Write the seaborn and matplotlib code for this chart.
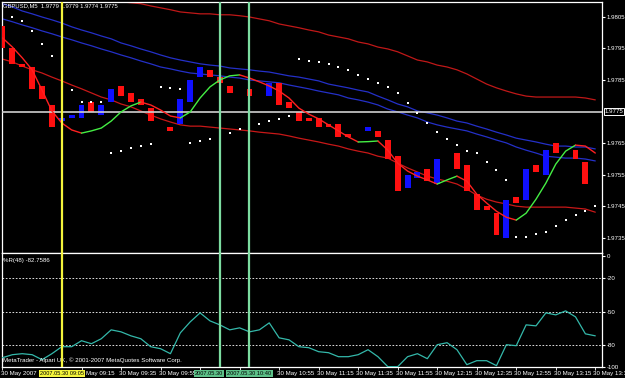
import numpy as np
import pandas as pd
import matplotlib
matplotlib.use("Agg")
import matplotlib.pyplot as plt
import matplotlib.transforms as mtransforms
import seaborn as sns

# ---------------- data ----------------
bar_index = list(range(61))

open_price = [1.9802, 1.9795, 1.9790, 1.9789, 1.9783, 1.9777, 1.9772, 1.9773, 1.9773, 1.9778,
              1.9774, 1.9778, 1.9783, 1.9781, 1.9779, 1.9776, 1.9775, 1.9770, 1.9771, 1.9778,
              1.9786, 1.9788, 1.9786, 1.9783, 1.9782, 1.9782, 1.9781, 1.9780, 1.9784, 1.9778,
              1.9775, 1.9773, 1.9773, 1.9771, 1.9771, 1.9768, 1.9765, 1.9769, 1.9769, 1.9766,
              1.9761, 1.9751, 1.9754, 1.9757, 1.9752, 1.9753, 1.9762, 1.9758, 1.9749, 1.9745,
              1.9743, 1.9735, 1.9748, 1.9747, 1.9758, 1.9755, 1.9765, 1.9763, 1.9763, 1.9759,
              1.9775]
close_price = [1.9795, 1.9790, 1.9789, 1.9782, 1.9779, 1.9770, 1.9773, 1.9774, 1.9777, 1.9775,
               1.9777, 1.9782, 1.9780, 1.9778, 1.9777, 1.9772, 1.9775, 1.9769, 1.9779, 1.9785,
               1.9789, 1.9786, 1.9784, 1.9781, 1.9782, 1.9780, 1.9781, 1.9784, 1.9777, 1.9776,
               1.9772, 1.9772, 1.9770, 1.9770, 1.9767, 1.9767, 1.9765, 1.9770, 1.9767, 1.9760,
               1.9750, 1.9755, 1.9756, 1.9753, 1.9760, 1.9753, 1.9757, 1.9750, 1.9744, 1.9744,
               1.9736, 1.9747, 1.9746, 1.9757, 1.9756, 1.9763, 1.9762, 1.9763, 1.9760, 1.9752,
               1.9775]

fast_ma = [1.97983, 1.97954, 1.97920, 1.97882, 1.97818, 1.97752, 1.97714, 1.97692, 1.97682, 1.97689,
           1.97698, 1.97720, 1.97749, 1.97768, 1.97780, 1.97771, 1.97755, 1.97736, 1.97730, 1.97749,
           1.97793, 1.97828, 1.97850, 1.97863, 1.97866, 1.97856, 1.97844, 1.97831, 1.97815, 1.97793,
           1.97761, 1.97742, 1.97727, 1.97708, 1.97689, 1.97670, 1.97654, 1.97655, 1.97657, 1.97628,
           1.97587, 1.97562, 1.97546, 1.97534, 1.97521, 1.97534, 1.97546, 1.97530, 1.97489, 1.97461,
           1.97435, 1.97416, 1.97407, 1.97429, 1.97473, 1.97524, 1.97584, 1.97625, 1.97644, 1.97641,
           1.97619]

slow_ma = [1.97916, 1.97907, 1.97894, 1.97882, 1.97872, 1.97859, 1.97847, 1.97834, 1.97822, 1.97809,
           1.97796, 1.97787, 1.97774, 1.97765, 1.97752, 1.97739, 1.97727, 1.97717, 1.97708, 1.97704,
           1.97704, 1.97701, 1.97698, 1.97695, 1.97692, 1.97689, 1.97685, 1.97682, 1.97679, 1.97673,
           1.97666, 1.97660, 1.97654, 1.97647, 1.97641, 1.97632, 1.97625, 1.97619, 1.97609, 1.97603,
           1.97587, 1.97572, 1.97559, 1.97546, 1.97537, 1.97530, 1.97521, 1.97505, 1.97486, 1.97473,
           1.97464, 1.97458, 1.97451, 1.97448, 1.97448, 1.97448, 1.97448, 1.97448, 1.97445, 1.97442,
           1.97432]

upper_band = [1.98166, 1.98160, 1.98154, 1.98147, 1.98141, 1.98135, 1.98128, 1.98122, 1.98116, 1.98109,
              1.98103, 1.98100, 1.98097, 1.98094, 1.98091, 1.98084, 1.98078, 1.98072, 1.98065, 1.98062,
              1.98059, 1.98059, 1.98056, 1.98056, 1.98053, 1.98049, 1.98043, 1.98037, 1.98027, 1.98021,
              1.98015, 1.98008, 1.98002, 1.97992, 1.97986, 1.97980, 1.97970, 1.97964, 1.97954, 1.97948,
              1.97939, 1.97926, 1.97913, 1.97907, 1.97897, 1.97891, 1.97882, 1.97869, 1.97853, 1.97837,
              1.97825, 1.97815, 1.97806, 1.97799, 1.97796, 1.97796, 1.97796, 1.97796, 1.97796, 1.97793,
              1.97787]

blue_upper = [1.98091, 1.98081, 1.98068, 1.98059, 1.98049, 1.98040, 1.98030, 1.98018, 1.98008, 1.97999,
              1.97989, 1.97980, 1.97967, 1.97958, 1.97948, 1.97939, 1.97929, 1.97920, 1.97913, 1.97907,
              1.97901, 1.97897, 1.97894, 1.97888, 1.97885, 1.97882, 1.97878, 1.97875, 1.97869, 1.97863,
              1.97859, 1.97853, 1.97847, 1.97837, 1.97831, 1.97825, 1.97818, 1.97812, 1.97799, 1.97787,
              1.97774, 1.97765, 1.97752, 1.97746, 1.97739, 1.97730, 1.97720, 1.97714, 1.97704, 1.97695,
              1.97685, 1.97676, 1.97666, 1.97660, 1.97654, 1.97647, 1.97641, 1.97641, 1.97638, 1.97638,
              1.97632]

blue_lower = [1.98043, 1.98034, 1.98024, 1.98015, 1.98005, 1.97996, 1.97986, 1.97977, 1.97967, 1.97958,
              1.97948, 1.97939, 1.97929, 1.97920, 1.97910, 1.97901, 1.97891, 1.97885, 1.97878, 1.97872,
              1.97869, 1.97866, 1.97863, 1.97859, 1.97856, 1.97850, 1.97847, 1.97844, 1.97841, 1.97834,
              1.97828, 1.97822, 1.97815, 1.97809, 1.97803, 1.97793, 1.97787, 1.97780, 1.97771, 1.97758,
              1.97749, 1.97739, 1.97730, 1.97717, 1.97708, 1.97701, 1.97695, 1.97689, 1.97679, 1.97670,
              1.97660, 1.97651, 1.97638, 1.97628, 1.97619, 1.97609, 1.97606, 1.97603, 1.97603, 1.97600,
              1.97594]

sar = [1.98068, 1.98049, 1.98037, 1.98005, 1.97964, 1.97926, 1.97872, 1.97818, 1.97780, 1.97780,
       1.97780, 1.97619, 1.97625, 1.97635, 1.97641, 1.97647, 1.97828, 1.97825, 1.97822, 1.97651,
       1.97657, 1.97663, 1.97673, 1.97682, 1.97695, 1.97704, 1.97711, 1.97720, 1.97727, 1.97736,
       1.97916, 1.97910, 1.97907, 1.97901, 1.97891, 1.97882, 1.97866, 1.97853, 1.97840, 1.97828,
       1.97809, 1.97777, 1.97746, 1.97714, 1.97685, 1.97663, 1.97644, 1.97625, 1.97619, 1.97591,
       1.97565, 1.97534, 1.97353, 1.97353, 1.97363, 1.97369, 1.97388, 1.97407, 1.97423, 1.97435,
       1.97451]

wpr = [-91.6, -88.9, -88.0, -88.9, -93.4, -88.0, -81.7, -81.7, -76.3, -79.0,
       -74.5, -66.5, -68.3, -71.9, -74.5, -81.7, -83.5, -88.0, -69.2, -59.3,
       -51.2, -58.4, -62.0, -66.5, -64.7, -68.3, -66.5, -60.2, -73.7, -75.5,
       -81.7, -82.6, -86.2, -87.1, -90.7, -90.7, -88.9, -84.4, -90.7, -99.7,
       -99.7, -90.7, -88.0, -92.5, -79.9, -78.1, -84.4, -97.9, -94.3, -94.3,
       -98.8, -79.9, -80.8, -62.0, -62.9, -51.2, -53.0, -49.4, -54.8, -70.1,
       -71.9]

bid_price = 1.9775
header_text = "GBPUSD,M5  1.9779 1.9779 1.9774 1.9775"
wpr_text = "%R(48) -82.7586"
copyright_text = "MetaTrader - Alpari UK, \u00a9 2001-2007 MetaQuotes Software Corp."

price_ticks = [1.9735, 1.9745, 1.9755, 1.9765, 1.9785, 1.9795, 1.9805]
wpr_ticks = [0, -20, -50, -80, -100]
wpr_levels = [-20, -50, -80]

# time labels that are visible (10:15 / 10:35 are hidden under the line labels)
time_ticks = [0, 8, 12, 16, 20, 24, 28, 32, 36, 40, 44, 48, 52, 56, 60]
label_ticks = [0, 8.65, 12, 16, 28, 32, 36, 40, 44, 48, 52, 56, 60]
time_labels = ["30 May 2007", "May 09:15", "30 May 09:35", "30 May 09:55",
               "30 May 10:55", "30 May 11:15", "30 May 11:35", "30 May 11:55",
               "30 May 12:15", "30 May 12:35", "30 May 12:55", "30 May 13:15", "30 May 13:35"]

vline_bars = [6, 22, 25]
vline_labels = ["2007.05.30 09:05", "2007.05.30", "2007.05.30 10:40"]

# ---------------- style ----------------
sns.set_theme(style="dark", rc={
    "figure.facecolor": "black",
    "axes.facecolor": "black",
    "axes.edgecolor": "white",
    "savefig.facecolor": "black",
})
plt.rcParams["font.family"] = ["Liberation Sans", "DejaVu Sans"]

FS = 4.4
LFS = 4.1
RED = "#ff1010"
BLUE = "#1010ff"

fig = plt.figure(figsize=(6.25, 3.78), dpi=100)
W, H = 625.0, 378.0
ax = fig.add_axes([2 / W, (H - 253) / H, 600 / W, 251.5 / H])
ax2 = fig.add_axes([2 / W, (H - 367) / H, 600 / W, 114 / H])

for a in (ax, ax2):
    a.set_facecolor("black")
    for s in a.spines.values():
        s.set_color("white")
        s.set_linewidth(0.9)
    a.grid(False)
    a.set_xlim(-0.05, 60.68)

ax.set_ylim(1.97303, 1.98098)
ax2.set_ylim(-99.7, 2.8)

# ---------------- main panel ----------------
df = pd.DataFrame({"bar": bar_index, "open": open_price, "close": close_price})
body = df["close"] - df["open"]
colors = [RED if b < 0 else BLUE for b in body]
ax.bar(df["bar"], body, bottom=df["open"], width=0.6, color=colors, linewidth=0, zorder=3)

line_kw = dict(estimator=None, sort=False, legend=False)
sns.lineplot(x=bar_index, y=upper_band, ax=ax, color="#c01818", lw=0.9, zorder=2, **line_kw)
sns.lineplot(x=bar_index, y=blue_upper, ax=ax, color="#2430c8", lw=0.9, zorder=2, **line_kw)
sns.lineplot(x=bar_index, y=blue_lower, ax=ax, color="#2430c8", lw=0.9, zorder=2, **line_kw)
sns.lineplot(x=bar_index, y=slow_ma, ax=ax, color="#c81818", lw=0.9, zorder=2, **line_kw)

# fast MA coloured by direction
up = [fast_ma[k + 1] > fast_ma[k] for k in range(len(fast_ma) - 1)]
start = 0
for k in range(1, len(up) + 1):
    if k == len(up) or up[k] != up[start]:
        xs = bar_index[start:k + 1]
        ys = fast_ma[start:k + 1]
        sns.lineplot(x=xs, y=ys, ax=ax, color="#44ee44" if up[start] else "#ff2020",
                     lw=1.0, zorder=4, **line_kw)
        start = k

sns.scatterplot(x=bar_index, y=sar, ax=ax, color="white", s=2.5, marker="s",
                linewidth=0, zorder=4, legend=False)

ax.axhline(bid_price, color="#cfcfcf", lw=1.2, zorder=3)

ax.yaxis.tick_right()
ax.set_yticks(price_ticks)
ax.set_yticklabels([f"{p:.4f}" for p in price_ticks])
ax.tick_params(axis="y", colors="white", labelsize=FS, length=2, width=0.8, pad=1.5, right=True, left=False)
ax.tick_params(axis="x", bottom=False, labelbottom=False)
ax.set_xlabel("")
ax.set_ylabel("")
ybid = mtransforms.blended_transform_factory(ax.transAxes, ax.transData)
ax.text(1.004, bid_price, f"{bid_price:.4f}", transform=ybid, ha="left", va="center",
        fontsize=FS, color="white", clip_on=False, zorder=10,
        bbox=dict(facecolor="black", edgecolor="white", linewidth=0.7, pad=0.6))

ax.text(0.002, 0.984, header_text, transform=ax.transAxes, ha="left", va="center",
        fontsize=4.2, color="white", zorder=3)

# ---------------- lower panel ----------------
sns.lineplot(x=bar_index, y=wpr, ax=ax2, color="#34b8aa", lw=0.9, zorder=3, **line_kw)
for lv in wpr_levels:
    ax2.axhline(lv, color="white", lw=0.6, ls=(0, (2, 2)), zorder=2)
ax2.yaxis.tick_right()
ax2.set_yticks(wpr_ticks)
ax2.set_yticklabels([str(t) for t in wpr_ticks])
ax2.tick_params(axis="y", colors="white", labelsize=FS, length=2, width=0.8, pad=1.5, right=True, left=False)
ax2.set_xticks(time_ticks)
ax2.set_xticklabels([])
ax2.tick_params(axis="x", colors="white", length=2, width=0.6, bottom=True)
ax2.set_xlabel("")
ax2.set_ylabel("")
ax2.text(0.002, 0.93, wpr_text, transform=ax2.transAxes, ha="left", va="center",
         fontsize=FS, color="white")
ax2.text(0.002, 0.06, copyright_text, transform=ax2.transAxes, ha="left", va="center",
         fontsize=FS, color="white", zorder=5)

xt = ax2.get_xaxis_transform()
for t, lab in zip(label_ticks, time_labels):
    ax2.text(t - 0.2, -0.053, lab, transform=xt, ha="left", va="center",
             fontsize=FS, color="white", clip_on=False)

# ---------------- vertical lines ----------------
vcolors = ["#f4f43c", "#7cdca0", "#7cdca0"]
lcolors = ["#f4f43c", "#5cc088", "#5cc088"]
for n, (b, lab, vc, lc) in enumerate(zip(vline_bars, vline_labels, vcolors, lcolors)):
    for a in (ax, ax2):
        a.axvline(b, color=vc, lw=1.6, zorder=6)
    if n == 1:
        # first green label is partly covered by the second one in the chart
        ax2.text(b - 2.5, -0.053, lab, transform=xt, ha="left", va="center", fontsize=LFS,
                 color="black", clip_on=False, zorder=10,
                 bbox=dict(facecolor=lc, edgecolor="none", pad=0.7))
    else:
        ax2.text(b, -0.053, lab, transform=xt, ha="center", va="center", fontsize=LFS,
                 color="black", clip_on=False, zorder=11,
                 bbox=dict(facecolor=lc, edgecolor="none", pad=0.7))

fig.savefig("out.png", dpi=100, facecolor="black")
